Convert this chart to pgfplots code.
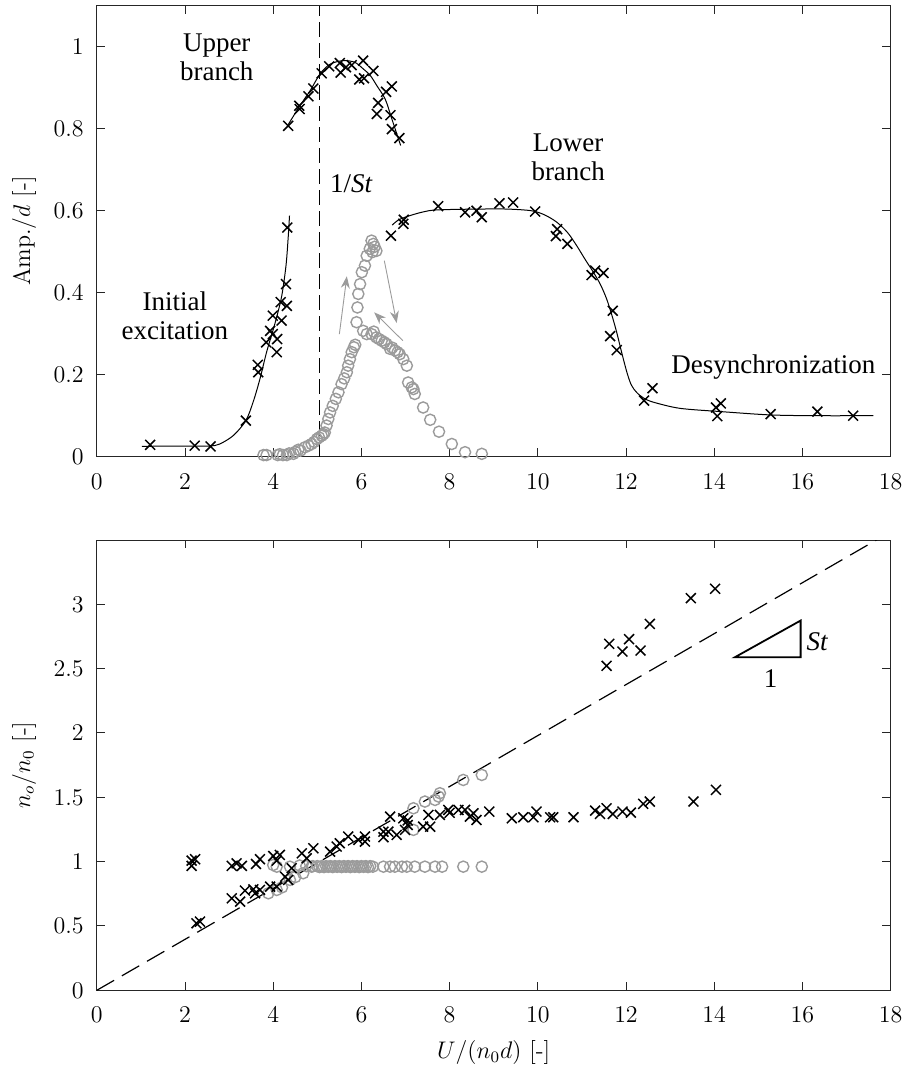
\documentclass[border=0pt]{standalone}
\usepackage{pgfplots}
\pgfplotsset{compat=1.18}
\usepackage{fontspec}
\newfontfamily\timesf{Liberation Serif}
\usetikzlibrary{arrows.meta}
\definecolor{axc}{RGB}{38,38,38}
\definecolor{circ}{RGB}{155,155,155}
\tikzset{ann/.style={font=\timesf\fontsize{13.5}{14.5}\selectfont, align=center}}
\pgfplotsset{
  myax/.style={
    scale only axis, width=396.9pt,
    xmin=0, xmax=18, xtick={0,2,...,18},
    axis line style={axc, line width=0.5pt},
    tick style={axc, line width=0.5pt},
    major tick length=4.2pt,
    tick label style={font=\fontsize{12}{14}\selectfont, text=black},
    xticklabel style={yshift=-5pt},
    yticklabel style={xshift=-3pt},
    label style={font=\fontsize{12}{14}\selectfont},
  },
  crs/.style={only marks, mark=x, mark size=3.5pt, mark options={line width=0.75pt, black}},
  cir/.style={only marks, circ, mark=o, mark size=2.8pt, mark options={line width=0.7pt, draw=circ}},
  fitc/.style={black, line width=0.5pt, smooth, no markers},
}
\begin{document}
\begin{tikzpicture}
%% ---------------- TOP ----------------
\begin{axis}[myax, at={(0,0)}, anchor=north west, height=225.5pt,
  ymin=0, ymax=1.1, ytick={0,0.2,...,1},
  ylabel={Amp./$d$ [-]},
  ylabel style={at={(axis description cs:-0.0917,0.5)}, anchor=center},
]
\addplot[cir] coordinates {
(3.78,0.004)(3.85,0.004)(4.10,0.004)(4.15,0.006)(4.22,0.004)(4.31,0.004)(4.36,0.008)
(4.46,0.007)(4.50,0.012)(4.57,0.017)(4.62,0.015)(4.72,0.023)(4.80,0.027)(4.87,0.031)
(4.93,0.036)(4.99,0.043)(5.04,0.047)(5.10,0.051)(5.14,0.055)(5.17,0.059)(5.21,0.076)
(5.25,0.092)(5.29,0.108)(5.35,0.124)(5.42,0.141)(5.48,0.157)(5.55,0.177)(5.61,0.191)
(5.67,0.206)(5.70,0.222)(5.74,0.238)(5.78,0.255)(5.83,0.267)(5.86,0.273)(5.89,0.328)
(5.91,0.364)(5.93,0.397)(5.97,0.421)(6.01,0.450)(6.08,0.466)(6.12,0.490)(6.19,0.507)
(6.25,0.499)(6.27,0.519)(6.30,0.512)(6.34,0.502)(6.23,0.527)
(6.04,0.307)(6.12,0.299)(6.23,0.299)(6.28,0.305)(6.34,0.291)(6.40,0.287)(6.46,0.283)
(6.52,0.279)(6.57,0.275)(6.65,0.263)(6.70,0.266)(6.76,0.259)(6.82,0.255)(6.87,0.250)
(6.95,0.238)(7.03,0.222)(7.06,0.181)(7.14,0.169)(7.18,0.165)(7.21,0.153)(7.40,0.120)
(7.56,0.090)(7.76,0.061)(8.05,0.031)(8.35,0.011)(8.73,0.007)
};
\addplot[crs] coordinates {
(1.21,0.029)(2.22,0.027)(2.58,0.025)(3.38,0.088)(3.65,0.224)(3.66,0.206)(3.84,0.279)
(3.93,0.307)(3.99,0.344)(3.99,0.299)(4.08,0.255)(4.09,0.287)(4.17,0.377)(4.19,0.332)
(4.29,0.421)(4.31,0.368)(4.32,0.559)
(4.34,0.807)(4.59,0.856)(4.60,0.848)(4.80,0.879)(4.91,0.898)(5.10,0.935)(5.27,0.952)
(5.51,0.960)(5.53,0.937)(5.65,0.950)(5.78,0.955)(5.95,0.920)(6.04,0.966)(6.06,0.923)
(6.27,0.941)(6.35,0.836)(6.38,0.863)(6.56,0.890)(6.69,0.903)(6.66,0.833)(6.69,0.799)
(6.86,0.777)
(6.67,0.539)(6.95,0.568)(6.96,0.578)(7.74,0.611)(8.35,0.596)(8.61,0.600)(8.73,0.584)
(9.13,0.618)(9.44,0.620)(9.94,0.598)(10.41,0.538)(10.44,0.555)(10.67,0.519)(11.22,0.443)
(11.30,0.454)(11.49,0.448)(11.64,0.294)(11.70,0.356)(11.79,0.260)(12.41,0.137)(12.60,0.167)
(14.04,0.120)(14.07,0.099)(14.15,0.130)(15.28,0.104)(16.34,0.110)(17.15,0.100)
};
\addplot[fitc] coordinates {
(1.02,0.025)(1.6,0.026)(2.2,0.026)(2.57,0.026)(2.79,0.031)(3.1,0.052)(3.38,0.088)
(3.55,0.135)(3.70,0.19)(3.85,0.255)(4.04,0.325)(4.19,0.39)(4.29,0.466)(4.34,0.535)(4.37,0.588)
};
\addplot[fitc] coordinates {
(4.34,0.81)(4.6,0.855)(4.85,0.895)(5.07,0.935)(5.3,0.958)(5.59,0.966)(5.85,0.962)
(6.04,0.946)(6.2,0.93)(6.35,0.905)(6.54,0.872)(6.69,0.824)(6.89,0.759)
};
\addplot[fitc] coordinates {
(6.70,0.565)(6.85,0.578)(7.10,0.588)(7.4,0.597)(7.72,0.602)(8.69,0.604)(9.3,0.604)
(9.85,0.600)(10.15,0.590)(10.43,0.572)(10.68,0.546)(10.88,0.515)(11.08,0.480)(11.26,0.450)
(11.42,0.420)(11.56,0.385)(11.68,0.345)(11.79,0.303)(11.9,0.255)(12.02,0.206)(12.12,0.175)
(12.24,0.157)(12.4,0.143)(12.62,0.133)(13.22,0.118)(14.15,0.110)(15.25,0.102)(16.24,0.100)(17.61,0.100)
};
\addplot[black, line width=0.6pt, dash pattern=on 7.5pt off 3pt] coordinates {(5.05,0)(5.05,1.1)};
\draw[circ, line width=0.45pt, -{Stealth[length=6pt,width=4.5pt]}] (axis cs:5.50,0.299) -- (axis cs:5.67,0.440);
\draw[circ, line width=0.45pt, -{Stealth[length=6pt,width=4.5pt]}] (axis cs:6.52,0.478) -- (axis cs:6.80,0.326);
\draw[circ, line width=0.45pt, -{Stealth[length=6pt,width=4.5pt]}] (axis cs:6.94,0.283) -- (axis cs:6.29,0.352);
\node[ann] at (axis cs:2.72,0.973) {Upper\\branch};
\node[ann] at (axis cs:1.77,0.344) {Initial\\excitation};
\node[ann] at (axis cs:10.69,0.73) {Lower\\branch};
\node[ann] at (axis cs:15.34,0.218) {Desynchronization};
\node[ann, anchor=west] at (axis cs:5.13,0.665) {1/\textit{St}};
\end{axis}
%% ---------------- BOTTOM ----------------
\begin{axis}[myax, at={(0,-267.15pt)}, anchor=north west, height=225.15pt,
  ymin=0, ymax=3.5, ytick={0,0.5,...,3},
  yticklabel style={/pgf/number format/fixed},
  ylabel={$n_o/n_0$ [-]},
  ylabel style={at={(axis description cs:-0.0917,0.5)}, anchor=center},
  xlabel={$U/(n_0 d)$ [-]},
  xlabel style={at={(axis description cs:0.5,-0.139)}, anchor=center},
]
\addplot[cir] coordinates {
(3.89,0.754)(4.08,0.780)(4.20,0.800)(4.38,0.858)(4.50,0.880)(4.68,0.910)(4.87,0.961)
(4.00,0.974)(4.08,0.961)(4.38,0.961)(4.60,0.970)(4.75,0.965)(4.90,0.965)(5.00,0.965)
(5.05,0.958)(5.10,0.965)(5.15,0.958)(5.20,0.965)(5.25,0.960)(5.30,0.965)(5.35,0.958)
(5.40,0.965)(5.45,0.960)(5.50,0.965)(5.55,0.958)(5.60,0.965)(5.65,0.960)(5.70,0.965)
(5.75,0.958)(5.80,0.965)(5.85,0.960)(5.90,0.965)(5.95,0.958)(6.00,0.965)(6.05,0.960)
(6.10,0.965)(6.15,0.958)(6.20,0.965)(6.26,0.961)
(6.50,0.961)(6.65,0.961)(6.76,0.961)(6.92,0.961)(7.03,0.961)(7.21,0.961)(7.44,0.961)
(7.67,0.961)(7.83,0.961)(8.31,0.961)(8.73,0.961)
(7.18,1.415)(7.44,1.467)(7.67,1.480)(7.75,1.506)(7.78,1.532)(8.31,1.635)(8.73,1.674)(7.18,1.247)
};
\addplot[crs] coordinates {
(2.15,1.008)(2.23,1.019)(2.15,0.967)(2.26,0.521)(2.34,0.534)(3.06,0.967)(3.17,0.987)
(3.29,0.967)(3.06,0.715)(3.25,0.689)(3.36,0.775)(3.55,0.785)(3.61,0.982)(3.70,1.019)
(3.59,0.754)(3.70,0.780)(3.93,0.806)(4.00,1.044)(4.08,1.008)(4.15,1.052)(4.08,0.806)
(4.27,0.883)(4.34,0.858)(4.42,0.949)(4.65,1.065)(4.76,1.026)(4.91,1.104)(5.29,1.078)
(5.44,1.117)(5.51,1.143)(5.70,1.195)(5.93,1.169)(6.08,1.195)(6.08,1.156)(6.50,1.233)
(6.50,1.190)(6.61,1.233)(6.65,1.350)(6.80,1.208)(6.95,1.337)(6.99,1.247)(7.05,1.320)
(7.05,1.285)(7.40,1.272)(7.52,1.363)(7.56,1.272)(7.78,1.363)(7.97,1.402)(8.00,1.380)
(8.20,1.402)(8.35,1.402)(8.46,1.350)(8.54,1.376)(8.61,1.324)(8.90,1.389)(9.41,1.337)
(9.67,1.345)(9.90,1.345)(9.97,1.389)(10.28,1.345)(10.35,1.345)(10.81,1.345)(11.30,1.397)
(11.41,1.371)(11.56,1.415)(11.70,1.371)(11.92,1.389)(12.11,1.381)(12.39,1.449)(12.54,1.467)
(13.53,1.467)(14.04,1.558)
(11.56,2.522)(11.62,2.693)(11.92,2.633)(12.07,2.729)(12.33,2.641)(12.54,2.848)(13.47,3.048)(14.02,3.121)
};
\addplot[black, line width=0.6pt, dash pattern=on 10pt off 4.5pt] coordinates {(0,0)(18,3.564)};
\draw[black, line width=0.9pt] (axis cs:14.47,2.589) -- (axis cs:15.96,2.589) -- (axis cs:15.96,2.874) -- cycle;
\node[ann] at (axis cs:16.34,2.711) {\textit{St}};
\node[ann] at (axis cs:15.28,2.426) {1};
\end{axis}
\pgfresetboundingbox
\path[use as bounding box] (-48.4pt,2.85pt) rectangle (404.6pt,-532.15pt);
\end{tikzpicture}
\end{document}
